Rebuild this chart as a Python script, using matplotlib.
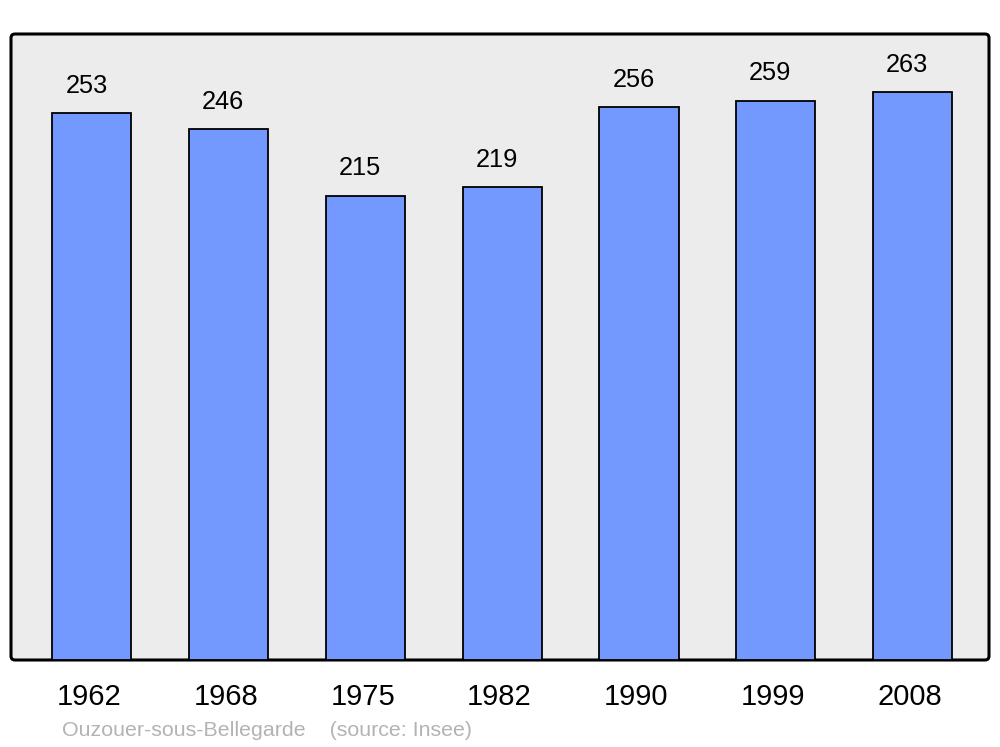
import matplotlib
matplotlib.use('Agg')
import matplotlib.pyplot as plt
from matplotlib.patches import FancyBboxPatch

plt.rcParams['font.family'] = ['Liberation Sans', 'DejaVu Sans']

# Population data
years = ['1962', '1968', '1975', '1982', '1990', '1999', '2008']
population = [253, 246, 215, 219, 256, 259, 263]
town = 'Ouzouer-sous-Bellegarde'
source = '(source: Insee)'

fig = plt.figure(figsize=(10, 7.47), dpi=100)
ax = fig.add_axes([0.011, 0.1165, 0.978, 0.838])
ax.set_zorder(1)
ax.patch.set_visible(False)
for s in ax.spines.values():
    s.set_visible(False)

# Rounded frame with grey background
frame = FancyBboxPatch((0.11, 0.87), 9.78, 6.26, boxstyle='round,pad=0,rounding_size=0.04',
                       transform=fig.dpi_scale_trans, facecolor='#ececec', edgecolor='black',
                       linewidth=2.2, zorder=-1)
fig.patches.append(frame)

x = list(range(len(years)))
bars = ax.bar(x, population, width=0.578, color='#7399ff', edgecolor='black', linewidth=1.3,
              zorder=2)

# Value labels above bars
for xi, v in zip(x, population):
    ax.annotate(str(v), (xi, v), xytext=(-4, 19.5), textcoords='offset points',
                ha='center', va='center', fontsize=18.3)

# Year labels below the frame
for xi, yr in zip(x, years):
    ax.annotate(yr, (xi, 0), xytext=(-2, -26.5), textcoords='offset points',
                ha='center', va='center', fontsize=21, annotation_clip=False)

ax.set_xlim(-0.592, 6.559)
ax.set_ylim(0, 289.8)
ax.set_xticks([])
ax.set_yticks([])

fig.text(0.062, 1 - 730 / 747, town + '    ' + source, color='#b3b3b3', fontsize=15.4,
         ha='left', va='center')

fig.savefig('out.png', dpi=100)
